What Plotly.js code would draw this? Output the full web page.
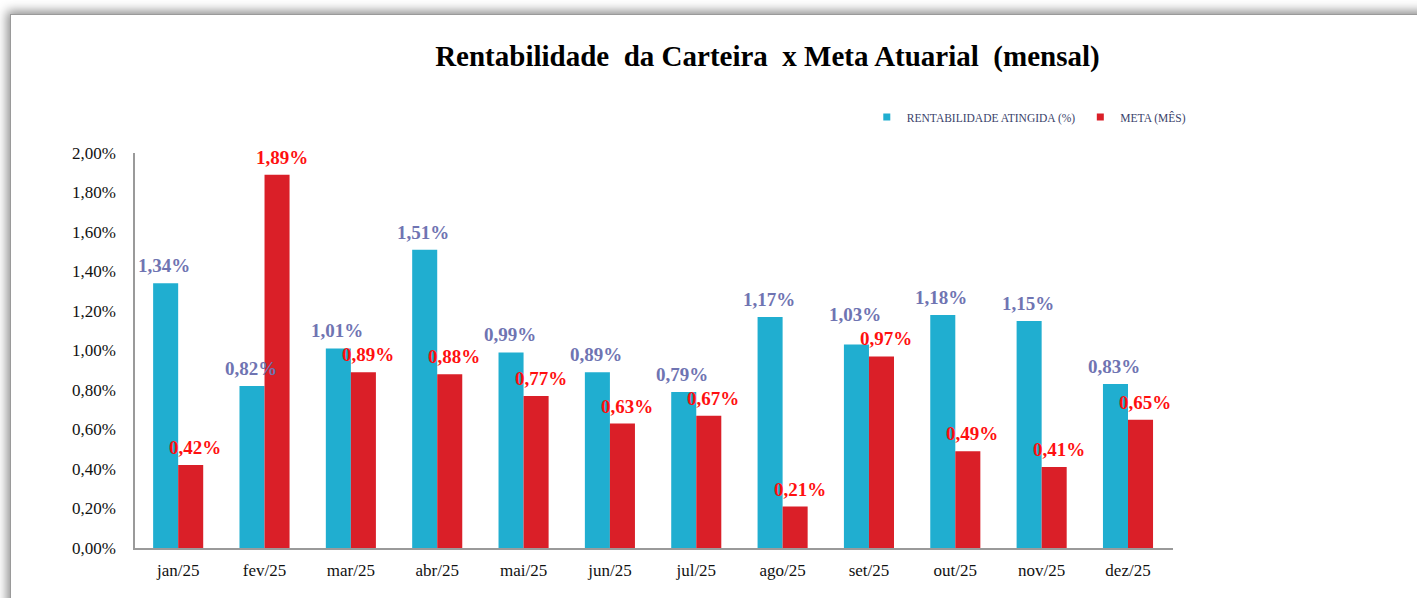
<!DOCTYPE html>
<html>
<head>
<meta charset="utf-8">
<script src="https://cdn.plot.ly/plotly-3.0.1.min.js"></script>
<style>
  html, body { margin: 0; padding: 0; background: #ffffff; width: 1417px; height: 598px; overflow: hidden; }
  #frame { position: absolute; left: 10px; top: 14px; width: 1440px; height: 620px;
           border-left: 1px solid #9a9a9a; border-top: 1px solid #9a9a9a;
           box-shadow: -3px -3px 10px rgba(0,0,0,0.45); background: #fff; }
  #chart { position: absolute; left: 11px; top: 15px; width: 1406px; height: 583px; }
</style>
</head>
<body>
<div id="frame"></div>
<div id="chart"></div>
<script>
const months = ['jan/25','fev/25','mar/25','abr/25','mai/25','jun/25','jul/25','ago/25','set/25','out/25','nov/25','dez/25'];
const rentabilidade = [1.34, 0.82, 1.01, 1.51, 0.99, 0.89, 0.79, 1.17, 1.03, 1.18, 1.15, 0.83];
const meta = [0.42, 1.89, 0.89, 0.88, 0.77, 0.63, 0.67, 0.21, 0.97, 0.49, 0.41, 0.65];
const yTicks = [0, 0.2, 0.4, 0.6, 0.8, 1.0, 1.2, 1.4, 1.6, 1.8, 2.0];
const yTickText = ['0,00%','0,20%','0,40%','0,60%','0,80%','1,00%','1,20%','1,40%','1,60%','1,80%','2,00%'];

const blue = '#20AED0';
const red = '#DA1F28';
const serif = 'Liberation Serif, Times New Roman, serif';
const fmt = v => v.toFixed(2).replace('.', ',') + '%';

const PLOT_H = 395, Y_MAX = 2.0, LABEL_H = 24, GAP = 5;

const traces = [
  { type: 'bar', x: months, y: rentabilidade, name: 'RENTABILIDADE ATINGIDA (%)', marker: { color: blue },
    showlegend: false, hoverinfo: 'x+y' },
  { type: 'bar', x: months, y: meta, name: 'META (MÊS)', marker: { color: red },
    showlegend: false, hoverinfo: 'x+y' },
  { type: 'scatter', mode: 'markers', x: [null], y: [null], name: 'RENTABILIDADE ATINGIDA (%)',
    marker: { symbol: 'square', size: 7, color: blue }, showlegend: true, hoverinfo: 'skip' },
  { type: 'scatter', mode: 'markers', x: [null], y: [null], name: 'META (MÊS)',
    marker: { symbol: 'square', size: 7, color: red }, showlegend: true, hoverinfo: 'skip' }
];

// data labels drawn on top of all bars, positioned through the axes
const annotations = [];
months.forEach((m, i) => {
  const diffPx = (rentabilidade[i] - meta[i]) * PLOT_H / Y_MAX;
  const extra = (diffPx > 0 && diffPx < LABEL_H) ? (LABEL_H - diffPx) : 0;  // lift to avoid a collision
  annotations.push({ x: m, y: rentabilidade[i], xref: 'x', yref: 'y', text: fmt(rentabilidade[i]), showarrow: false,
    xshift: -14, yshift: GAP + extra, yanchor: 'bottom', font: { family: serif, size: 19, color: '#6F74B2', weight: 'bold' } });
});
months.forEach((m, i) => {
  annotations.push({ x: m, y: meta[i], xref: 'x', yref: 'y', text: fmt(meta[i]), showarrow: false,
    xshift: 17, yshift: GAP, yanchor: 'bottom', font: { family: serif, size: 19, color: '#FF1010', weight: 'bold' } });
});

const layout = {
  width: 1406, height: 583,
  margin: { l: 124, r: 244, t: 138, b: 50 },
  paper_bgcolor: 'rgba(0,0,0,0)', plot_bgcolor: 'rgba(0,0,0,0)',
  separators: ',.',
  barmode: 'group', bargap: 0.42, bargroupgap: 0,
  title: { text: 'Rentabilidade\u00a0 da Carteira\u00a0 x Meta Atuarial\u00a0 (mensal)', xref: 'container', x: 0.538, xanchor: 'center',
           yref: 'container', y: 0.93, yanchor: 'middle',
           font: { family: serif, size: 29, color: '#000', weight: 'bold' } },
  xaxis: { type: 'category', tickvals: months, ticktext: months, showgrid: false, showline: true, linecolor: '#9a9a9a', linewidth: 1.5,
           ticks: '', ticklabelstandoff: 6, tickfont: { family: serif, size: 17, color: '#111' }, fixedrange: true },
  yaxis: { range: [0, Y_MAX], tickvals: yTicks, ticktext: yTickText, showgrid: false, zeroline: false,
           showline: true, linecolor: '#9a9a9a', linewidth: 1.5, ticks: '', ticklabelstandoff: 14,
           tickfont: { family: serif, size: 17, color: '#111' }, fixedrange: true },
  annotations: annotations,
  showlegend: true,
  legend: { orientation: 'h', x: 0.705, xanchor: 'left', y: 1.091, yanchor: 'middle', itemwidth: 30,
            font: { family: serif, size: 11.5, color: '#3a3f6a' }, bgcolor: 'rgba(0,0,0,0)', itemclick: false, itemdoubleclick: false }
};

Plotly.newPlot('chart', traces, layout, { displayModeBar: false, responsive: false });
</script>
</body>
</html>
